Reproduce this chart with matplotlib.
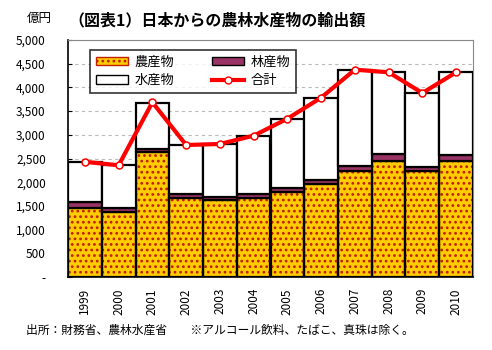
import matplotlib
matplotlib.use("Agg")
import matplotlib.pyplot as plt
import numpy as np
from matplotlib.patches import Patch
from matplotlib.lines import Line2D

plt.rcParams['font.family'] = ['Noto Sans CJK JP', 'DejaVu Sans']
plt.rcParams['hatch.linewidth'] = 1.2

# --- data (億円) ---
years = ["1999", "2000", "2001", "2002", "2003", "2004",
         "2005", "2006", "2007", "2008", "2009", "2010"]
agri   = [1450, 1365, 2630, 1667, 1618, 1667, 1787, 1962, 2237, 2448, 2237, 2448]
forest = [126, 97, 78, 78, 77, 91, 98, 91, 111, 141, 90, 120]
fish   = [844, 895, 972, 1040, 1111, 1217, 1449, 1724, 2020, 1730, 1555, 1751]
total  = [2430, 2357, 3685, 2785, 2806, 2981, 3340, 3783, 4374, 4319, 3882, 4319]

x = np.arange(len(years))
agri_a, forest_a, fish_a = np.array(agri), np.array(forest), np.array(fish)

fig = plt.figure(figsize=(4.92, 3.5), dpi=100)
ax = fig.add_axes([68/492, 1-277/350, 405/492, 237/350])

# agri: yellow with dark red dash pattern, then black outline on top
ax.bar(x, agri_a, width=1.0, color="#FFCC00", edgecolor="#C02000", hatch="...",
       linewidth=0, zorder=2)
ax.bar(x, agri_a, width=1.0, fill=False, edgecolor="black", linewidth=1.6, zorder=3)
ax.bar(x, forest_a, width=1.0, bottom=agri_a, color="#993366",
       edgecolor="black", linewidth=1.6, zorder=3)
ax.bar(x, fish_a, width=1.0, bottom=agri_a + forest_a, color="white",
       edgecolor="black", linewidth=1.6, zorder=3)

ax.plot(x, total, "-o", color="#FF0000", lw=3, ms=5, mfc="white",
        mec="#FF0000", mew=1.1, zorder=5)

ax.set_xlim(-0.5, len(years) - 0.5)
ax.set_ylim(0, 5000)
ax.set_yticks(np.arange(0, 5001, 500))
ax.set_yticklabels(["-"] + [f"{v:,}" for v in range(500, 5001, 500)],
                   fontsize=8.5)
ax.set_xticks(x)
ax.set_xticklabels(years, rotation=90, fontsize=8.5)
ax.tick_params(axis="y", direction="in", length=3, pad=16)
ax.tick_params(axis="x", length=0, pad=8)
ax.yaxis.grid(True, ls=(0, (3, 3)), color="#BBBBBB", lw=0.8, zorder=0)
ax.set_axisbelow(True)

for s in ["top", "right"]:
    ax.spines[s].set_color("#888888")
for s in ["left", "bottom"]:
    ax.spines[s].set_color("black")
    ax.spines[s].set_linewidth(1.2)

# legend
handles = [
    Patch(facecolor="#FFCC00", edgecolor="#C02000", hatch="...", label="農産物"),
    Patch(facecolor="white", edgecolor="black", label="水産物"),
    Patch(facecolor="#993366", edgecolor="black", label="林産物"),
    Line2D([0], [0], color="#FF0000", lw=3, marker="o", ms=5, mfc="white",
           mec="#FF0000", label="合計"),
]
leg = ax.legend(handles=handles, ncol=2, loc="upper left",
                bbox_to_anchor=(22/405, 1 - 10/237), borderaxespad=0,
                fontsize=9.5, frameon=True, fancybox=False, edgecolor="black",
                handlelength=2.4, handleheight=0.6, handletextpad=0.5,
                columnspacing=2.9, borderpad=0.45, labelspacing=0.4)
leg.get_frame().set_linewidth(1.2)
leg.set_zorder(10)

fig.text(52/492, 1-18/350, "億円", fontsize=9, ha="right", va="center")
fig.text(68/492, 1-20/350, "（図表1）日本からの農林水産物の輸出額",
         fontsize=11.5, fontweight="bold", ha="left", va="center")
fig.text(26/492, 1-330/350,
         "出所：財務省、農林水産省　　※アルコール飲料、たばこ、真珠は除く。",
         fontsize=8.5, ha="left", va="center")

fig.savefig("out.png", dpi=100)
